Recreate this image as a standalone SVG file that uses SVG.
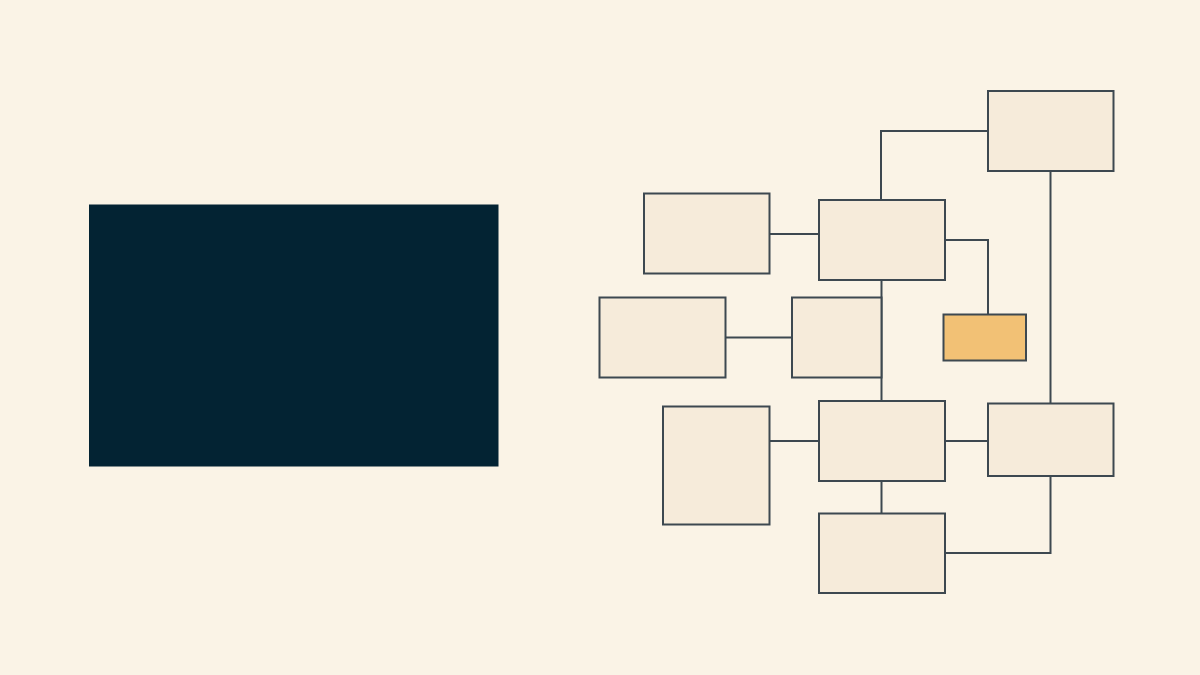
<svg xmlns="http://www.w3.org/2000/svg" width="1200" height="675" viewBox="0 0 1200 675">
  <style>
    .node { fill: #F6EBDA; stroke: #3D4850; stroke-width: 2; }
    .accent { fill: #F2C175; stroke: #3D4850; stroke-width: 2; }
    .conn { fill: none; stroke: #3D4850; stroke-width: 2; }
  </style>
  <rect x="0" y="0" width="1200" height="675" fill="#FAF3E6"/>
  <g id="panel">
    <rect x="89" y="204.5" width="409.5" height="262" fill="#032333"/>
  </g>
  <g id="connectors">
    <polyline class="conn" points="881,200 881,131 988,131"/>
    <line class="conn" x1="769" y1="234" x2="819" y2="234"/>
    <polyline class="conn" points="945,240 988,240 988,314"/>
    <line class="conn" x1="1050.5" y1="171" x2="1050.5" y2="404"/>
    <line class="conn" x1="881.5" y1="280" x2="881.5" y2="401"/>
    <line class="conn" x1="725" y1="337.5" x2="792" y2="337.5"/>
    <line class="conn" x1="769" y1="441" x2="819" y2="441"/>
    <line class="conn" x1="945" y1="441" x2="988" y2="441"/>
    <line class="conn" x1="881.5" y1="481" x2="881.5" y2="513"/>
    <polyline class="conn" points="945,553 1050.5,553 1050.5,476"/>
  </g>
  <g id="node-top-right"><rect class="node" x="988" y="91" width="125.5" height="80"/></g>
  <g id="node-a"><rect class="node" x="644" y="193.5" width="125.5" height="80"/></g>
  <g id="node-b"><rect class="node" x="819" y="200" width="126" height="80"/></g>
  <g id="node-c"><rect class="node" x="599.5" y="297.5" width="126" height="80"/></g>
  <g id="node-d"><rect class="node" x="792" y="297.5" width="89.5" height="80"/></g>
  <g id="node-orange"><rect class="accent" x="943.5" y="314.5" width="82.5" height="46"/></g>
  <g id="node-e"><rect class="node" x="663" y="406.5" width="106.5" height="118"/></g>
  <g id="node-f"><rect class="node" x="819" y="401" width="126" height="80"/></g>
  <g id="node-g"><rect class="node" x="988" y="403.5" width="125.5" height="72.5"/></g>
  <g id="node-h"><rect class="node" x="819" y="513.5" width="126" height="79.5"/></g>
</svg>
